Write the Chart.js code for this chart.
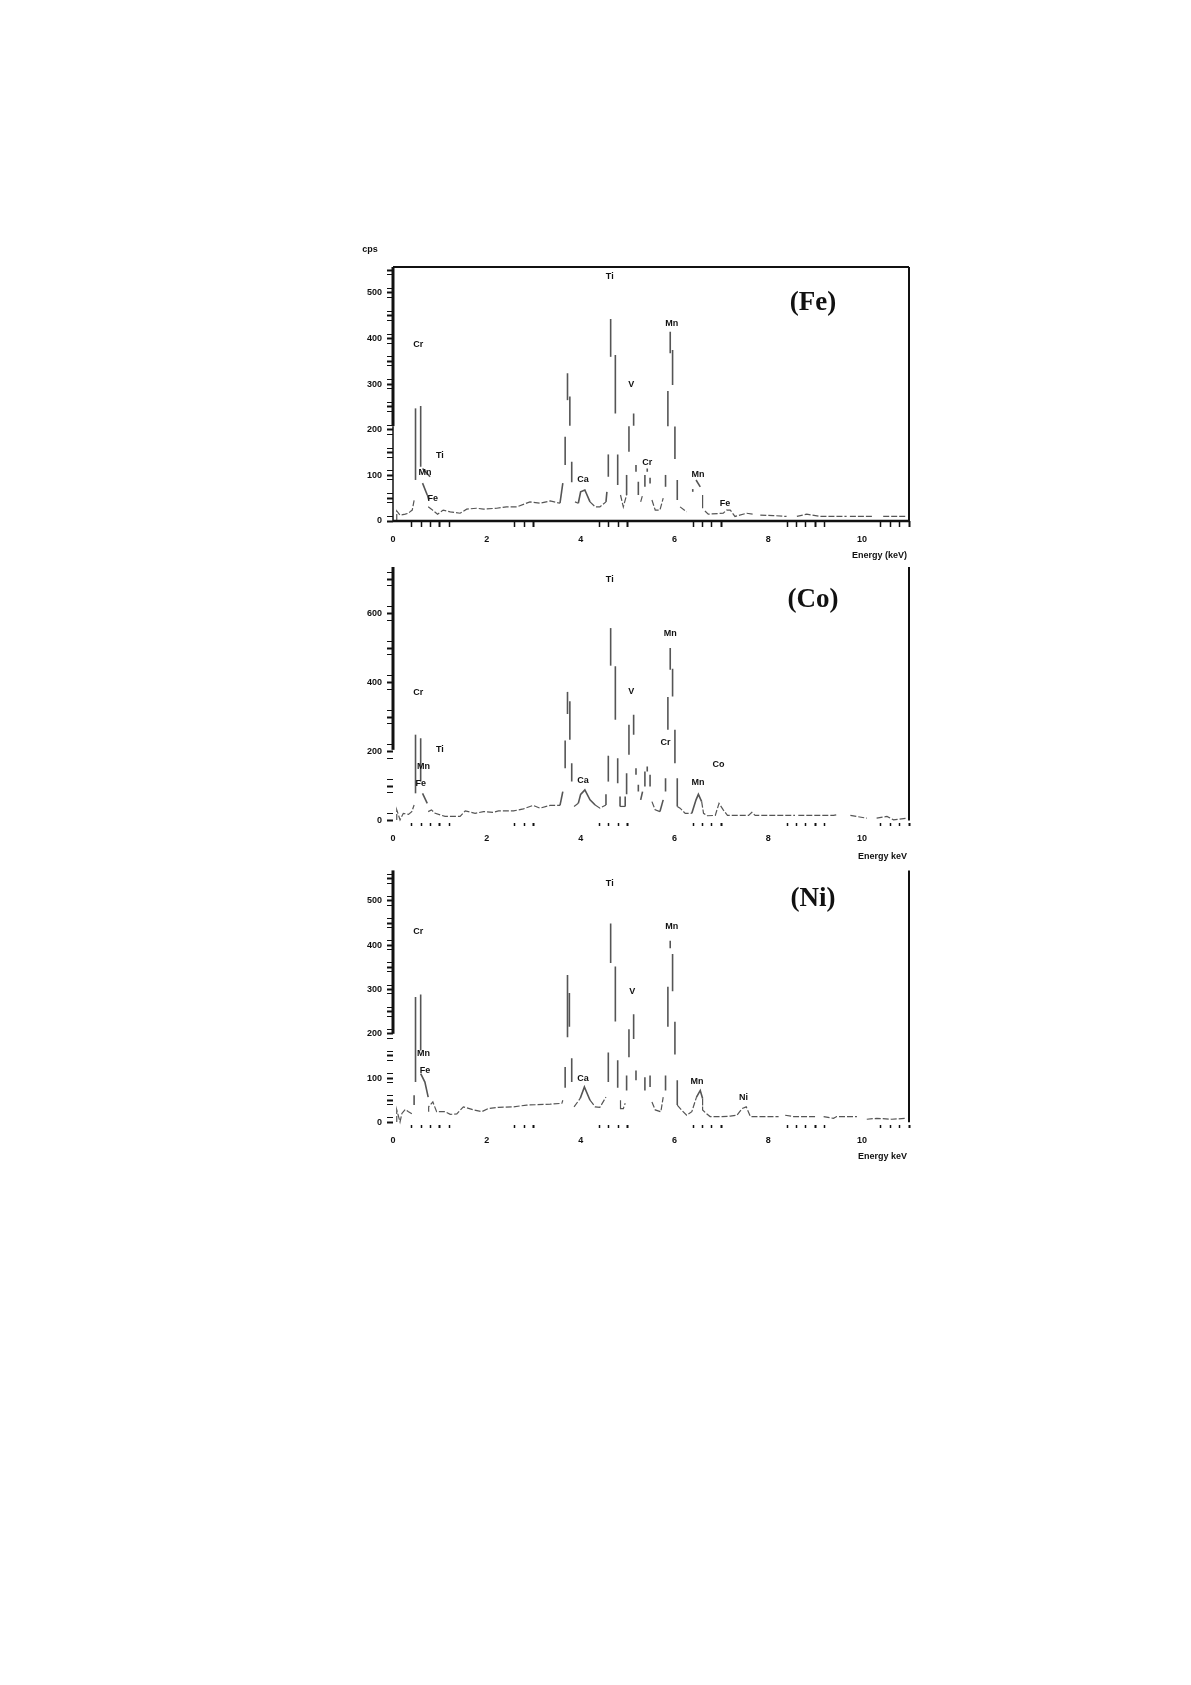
<!DOCTYPE html>
<html>
<head>
<meta charset="utf-8">
<title>EDS spectra</title>
<script src="https://cdn.jsdelivr.net/npm/chart.js@4/dist/chart.umd.js"></script>
<style>
    body { margin: 0; background: #fff; }
    #page { position: relative; width: 1191px; height: 1685px; overflow: hidden; }
    canvas { position: absolute; }
</style>
</head>
<body>
<div id="page">
    <canvas id="chart-fe"></canvas>
    <canvas id="chart-co"></canvas>
    <canvas id="chart-ni"></canvas>
</div>
<script>
// Spectrum data, null marks a break in the printed trace
const feEnergy = [.08,.08,.15,.26,.33,.36,.41,.45,.45, .48,.48,.48, .59,.59,.59, .63,.79,.79, .63,.73,.76,.76,
    .75,.82,.95,1.07,1.22,1.43,1.57,1.78,1.93,2.21,2.42,2.64,2.92,3.13,3.35,3.56,3.62,3.62,
    3.67,3.67,3.67, 3.72,3.72,3.72, 3.77,3.77,3.77, 3.81,3.81,3.81,
    3.88,3.95,4.00,4.09,4.20,4.31,4.41,4.54,4.56,4.56,
    4.59,4.59,4.59, 4.64,4.64,4.64, 4.74,4.74,4.74, 4.79,4.79,4.79, 4.85,4.91,4.98,4.98,4.98,
    5.03,5.03,5.03, 5.13,5.13,5.13, 5.18,5.18,5.18, 5.23,5.23,5.23, 5.28,5.32,5.32, 5.37,5.37,5.37,
    5.42,5.42,5.42, 5.48,5.48,5.48, 5.52,5.59,5.69,5.76,5.76, 5.81,5.81,5.81, 5.86,5.86,5.86,
    5.91,5.91,5.91, 5.96,5.96,5.96, 6.01,6.01,6.01, 6.06,6.06,6.06, 6.12,6.26,6.26, 6.39,6.39,6.39,
    6.46,6.55,6.55, 6.60,6.60,6.60, 6.65,6.72,7.04,7.11,7.19,7.29,7.54,7.68,7.68,
    7.83,8.11,8.39,8.39, 8.61,8.82,9.10,9.67,9.67, 9.74,10.24,10.24, 10.45,10.95];
const feCounts = [2,22,13,15,17,20,24,45,null, 90,247,null, 252,119,null, 115,97,null, 83,57,46,null,
    31,26,15,24,20,17,26,28,26,28,31,31,42,39,44,39,83,null,
    123,185,null, 265,324,null, 273,209,null, 130,85,null,
    42,39,64,68,42,31,31,42,64,null,
    97,146,null, 360,443,null, 364,236,null, 146,79,null, 57,31,57,101,null,
    152,208,null, 236,209,null, 123,108,null, 86,57,null, 42,57,null, 75,101,null,
    115,108,null, 95,82,null, 46,24,24,50,null, 75,101,null, 208,285,null,
    415,368,null, 375,298,null, 207,136,null, 90,46,null, 31,20,null, 64,70,null,
    90,75,null, 57,28,null, 22,15,17,24,24,10,17,15,null,
    13,12,10,null, 10,15,10,10,null, 10,10,null, 10,10];

const coEnergy = [.08,.08,.15,.22,.33,.40,.45,.45, .48,.48,.48, .59,.59,.59, .63,.73,.73,
    .75,.82,.90,1.04,1.11,1.43,1.54,1.75,1.93,2.14,2.25,2.57,2.78,2.99,3.13,3.35,3.56,3.62,3.62,
    3.67,3.67,3.67, 3.72,3.72,3.72, 3.77,3.77,3.77, 3.81,3.81,3.81,
    3.86,3.95,4.00,4.09,4.20,4.31,4.41,4.54,4.54,4.54,
    4.59,4.59,4.59, 4.64,4.64,4.64, 4.74,4.74,4.74, 4.79,4.79,4.79, 4.84,4.84,4.95,4.95,4.95,
    4.98,4.98,4.98, 5.03,5.03,5.03, 5.13,5.13,5.13, 5.18,5.18,5.18, 5.23,5.23,5.23, 5.28,5.32,5.32,
    5.37,5.37,5.37, 5.42,5.42,5.42, 5.48,5.48,5.48, 5.52,5.59,5.69,5.76,5.76, 5.81,5.81,5.81,
    5.86,5.86,5.86, 5.91,5.91,5.91, 5.96,5.96,5.96, 6.01,6.01,6.01, 6.06,6.06,
    6.12,6.23,6.37,6.46,6.51,6.58,6.62,6.70,6.87,6.95,7.04,7.13,7.58,7.65,7.72,8.57,8.57,
    8.64,9.39,9.46,9.46, 9.75,10.10,10.10, 10.31,10.53,10.67,10.95];
const coCounts = [2,31,2,21,18,26,45,null, 79,249,null, 239,113,null, 79,50,null,
    26,31,21,15,12,12,28,21,26,24,28,28,34,44,36,44,44,84,null,
    152,232,null, 309,373,null, 346,234,null, 166,113,null,
    41,50,76,89,60,45,36,45,76,null,
    113,188,null, 449,558,null, 447,292,null, 181,108,null, 70,41,41,70,null,
    137,76,null, 191,278,null, 307,249,null, 152,133,null, 104,84,null, 60,84,null,
    99,142,null, 157,142,null, 133,99,null, 55,31,26,60,null, 123,84,null,
    263,358,null, 500,437,null, 440,360,null, 263,166,null, 123,41,
    36,21,21,60,76,55,21,14,15,50,31,15,15,24,15,15,null,
    15,15,17,null, 15,7,null, 7,12,2,7];

const niEnergy = [.08,.08,.15,.19,.26,.33,.41,.41, .45,.45,.45, .48,.48,.48, .59,.59,.59, .59,.68,.75,.75,
    .76,.76,.85,.93,1.11,1.22,1.36,1.50,1.72,1.89,2.03,2.25,2.57,2.85,3.35,3.60,3.62,3.62,
    3.67,3.67,3.67, 3.72,3.72,3.72, 3.76,3.76,3.76, 3.81,3.81,3.81,
    3.86,3.99,4.08,4.20,4.31,4.41,4.54,4.54,
    4.59,4.59,4.59, 4.64,4.64,4.64, 4.74,4.74,4.74, 4.79,4.79,4.79, 4.85,4.85,4.91,4.95,4.95,
    4.98,4.98,4.98, 5.03,5.03,5.03, 5.13,5.13,5.13, 5.18,5.18,5.18, 5.37,5.37,5.37, 5.48,5.48,5.48,
    5.52,5.59,5.71,5.76,5.76, 5.81,5.81,5.81, 5.86,5.86,5.86, 5.91,5.91,5.91, 5.96,5.96,5.96,
    6.01,6.01,6.01, 6.06,6.06, 6.15,6.26,6.37,6.47,6.55,6.60,6.60, 6.68,6.76,7.01,7.19,7.33,7.44,7.53,7.62,8.22,8.22,
    8.36,8.54,9.00,9.00, 9.18,9.39,9.46,9.89,9.89, 10.10,10.31,10.63,10.95];
const niCounts = [1,28,1,20,29,24,19,null, 39,61,null, 91,283,null, 289,162,null, 110,91,57,null,
    24,35,46,24,24,18,19,35,28,24,31,34,35,39,41,43,50,null,
    78,125,null, 192,333,null, 292,216,null, 91,145,null,
    35,54,80,50,35,34,57,null,
    91,158,null, 360,449,null, 352,228,null, 140,78,null, 50,31,31,43,null,
    106,72,null, 147,210,null, 244,188,null, 117,95,null, 102,72,null, 106,80,null,
    46,28,24,57,null, 106,72,null, 216,306,null, 410,393,null, 380,296,null,
    227,153,null, 95,39, 28,16,24,57,72,54,28, 20,13,13,14,16,31,35,13,13,null,
    16,13,13,null, 13,9,13,13,null, 7,9,7,9];

// Peak annotations, one list per property
const fePeakNames = ['Cr', 'Ti', 'Mn', 'Fe', 'Ca', 'Ti', 'V', 'Cr', 'Mn', 'Mn', 'Fe'];
const fePeakEnergy = [.54, 1.0, .68, .85, 4.05, 4.62, 5.08, 5.42, 5.94, 6.5, 7.08];
const fePeakCounts = [386, 143, 107, 50, 91, 536, 300, 129, 433, 102, 39];

const coPeakNames = ['Cr', 'Ti', 'Mn', 'Fe', 'Ca', 'Ti', 'V', 'Cr', 'Mn', 'Mn', 'Co'];
const coPeakEnergy = [.54, 1.0, .65, .59, 4.05, 4.62, 5.08, 5.81, 5.91, 6.5, 6.94];
const coPeakCounts = [370, 205, 157, 108, 115, 700, 375, 226, 541, 111, 162];

const niPeakNames = ['Cr', 'Mn', 'Fe', 'Ca', 'Ti', 'V', 'Mn', 'Mn', 'Ni'];
const niPeakEnergy = [.54, .65, .68, 4.05, 4.62, 5.1, 5.94, 6.48, 7.47];
const niPeakCounts = [430, 156, 117, 98, 539, 295, 442, 93, 56];

// Axis tick labels
const energyTicks = [0, 2, 4, 6, 8, 10];
const feCountTicks = [0, 100, 200, 300, 400, 500];
const coCountTicks = [0, 200, 400, 600];
const niCountTicks = [0, 100, 200, 300, 400, 500];

const INK = '#111';
const TRACE = '#555';

// Draws the partial frame, peak names and panel title on top of the chart
const panelDecor = {
    id: 'panelDecor',
    afterDatasetsDraw(chart, args, opts) {
        const ctx = chart.ctx;
        const area = chart.chartArea;
        const y = chart.scales.y;
        const x = chart.scales.x;

        ctx.save();
        ctx.strokeStyle = INK;
        ctx.lineCap = 'butt';

        function rule(x0, y0, x1, y1, width) {
            ctx.lineWidth = width;
            ctx.beginPath();
            ctx.moveTo(x0, y0);
            ctx.lineTo(x1, y1);
            ctx.stroke();
        }

        rule(area.left, area.top, area.left, y.getPixelForValue(opts.spineEnd), 3);
        rule(area.right, area.top, area.right, y.getPixelForValue(0), 2);
        if (opts.closed) {
            rule(area.left, area.bottom, area.left, y.getPixelForValue(opts.spineEnd), 1.5);
            rule(area.left, area.top, area.right, area.top, 2);
            rule(area.left, area.bottom, area.right, area.bottom, 2.5);
        }

        ctx.fillStyle = INK;
        ctx.textAlign = 'center';
        ctx.textBaseline = 'middle';
        ctx.font = 'bold 9px "Liberation Sans"';
        opts.names.forEach(function(name, i) {
            ctx.fillText(name, x.getPixelForValue(opts.energy[i]), y.getPixelForValue(opts.counts[i]));
        });

        ctx.textAlign = 'right';
        ctx.fillText(opts.axisTitle, area.right - 2, area.bottom + opts.titleGap);
        if (opts.unit) {
            ctx.textAlign = 'center';
            ctx.fillText(opts.unit, area.left - 23, area.top - 17);
        }

        ctx.font = 'bold 27px "Liberation Serif"';
        ctx.textAlign = 'center';
        ctx.fillText(opts.title, area.right - 96, area.top + opts.titleTop);
        ctx.restore();
    }
};

function createPanel(config) {
    const canvas = document.getElementById(config.id);
    canvas.style.left = '320px';
    canvas.style.top = config.top + 'px';
    canvas.width = 610;
    canvas.height = config.height;

    const points = config.energy.map(function(e, i) {
        return { x: e, y: config.counts[i] };
    });

    new Chart(canvas.getContext('2d'), {
        type: 'line',
        data: {
            datasets: [{
                data: points,
                borderColor: TRACE,
                borderWidth: 1.6,
                pointRadius: 0,
                tension: 0,
                spanGaps: false,
                // the low background of the spectrum prints as a broken line
                segment: {
                    borderDash: function(c) {
                        return c.p0.parsed.y < 60 && c.p1.parsed.y < 60 ? [6, 2] : undefined;
                    },
                    borderWidth: function(c) {
                        return c.p0.parsed.y < 60 && c.p1.parsed.y < 60 ? 1.2 : undefined;
                    }
                }
            }]
        },
        options: {
            responsive: false,
            animation: false,
            layout: {
                autoPadding: false,
                padding: { left: 0, right: 21, top: config.padTop, bottom: 0 }
            },
            plugins: {
                legend: { display: false },
                tooltip: { enabled: false },
                panelDecor: config.decor
            },
            scales: {
                x: {
                    type: 'linear',
                    min: 0,
                    max: 11,
                    afterFit: function(scale) { scale.height = config.bottomSpace; },
                    border: { display: false },
                    grid: {
                        drawOnChartArea: false,
                        tickLength: config.tickLength,
                        tickWidth: function(c) {
                            return Math.abs(c.tick.value % 1) < 0.01 ? 2 : 1.5;
                        },
                        tickColor: function(c) {
                            const phase = Math.round(c.tick.value * 10) / 10 % 2;
                            return phase >= 0.4 && phase <= 1.2 ? INK : 'rgba(0,0,0,0)';
                        }
                    },
                    ticks: {
                        stepSize: 0.2,
                        autoSkip: false,
                        maxRotation: 0,
                        includeBounds: false,
                        padding: 7,
                        color: INK,
                        font: { family: 'Liberation Sans', size: 9, weight: 'bold' },
                        callback: function(value) {
                            const v = Math.round(value * 10) / 10;
                            return energyTicks.includes(v) ? String(v) : '';
                        }
                    }
                },
                y: {
                    min: config.min,
                    max: config.max,
                    afterFit: function(scale) { scale.width = 73; },
                    border: { display: false },
                    grid: {
                        drawOnChartArea: false,
                        tickLength: 6,
                        tickWidth: function(c) {
                            return c.tick.value % config.longStep === 0 ? 2 : 1;
                        },
                        tickColor: function(c) {
                            const offset = c.tick.value % config.longStep;
                            const nearLong = offset <= config.step || offset >= config.longStep - config.step;
                            return nearLong && c.tick.value >= 0 ? INK : 'rgba(0,0,0,0)';
                        }
                    },
                    ticks: {
                        stepSize: config.step,
                        autoSkip: false,
                        includeBounds: false,
                        padding: 5,
                        color: INK,
                        font: { family: 'Liberation Sans', size: 9, weight: 'bold' },
                        callback: function(value) {
                            return config.countTicks.includes(value) ? String(value) : '';
                        }
                    }
                }
            }
        },
        plugins: [panelDecor]
    });
}

document.addEventListener('DOMContentLoaded', function() {
    createPanel({
        id: 'chart-fe', top: 235, height: 330, padTop: 32, bottomSpace: 44, tickLength: 6,
        energy: feEnergy, counts: feCounts, countTicks: feCountTicks,
        min: 0, max: 557, step: 10, longStep: 50,
        decor: {
            names: fePeakNames, energy: fePeakEnergy, counts: fePeakCounts,
            spineEnd: 208, closed: true, axisTitle: 'Energy (keV)', titleGap: 35,
            unit: 'cps', title: '(Fe)', titleTop: 36
        }
    });
    createPanel({
        id: 'chart-co', top: 555, height: 310, padTop: 12, bottomSpace: 42, tickLength: 3,
        energy: coEnergy, counts: coCounts, countTicks: coCountTicks,
        min: -7, max: 735, step: 20, longStep: 100,
        decor: {
            names: coPeakNames, energy: coPeakEnergy, counts: coPeakCounts,
            spineEnd: 205, closed: false, axisTitle: 'Energy keV', titleGap: 34,
            title: '(Co)', titleTop: 33
        }
    });
    createPanel({
        id: 'chart-ni', top: 860, height: 307, padTop: 8, bottomSpace: 42, tickLength: 3,
        energy: niEnergy, counts: niCounts, countTicks: niCountTicks,
        min: -6, max: 569, step: 10, longStep: 50,
        decor: {
            names: niPeakNames, energy: niPeakEnergy, counts: niPeakCounts,
            spineEnd: 200, closed: false, axisTitle: 'Energy keV', titleGap: 32,
            title: '(Ni)', titleTop: 29
        }
    });
});
</script>
</body>
</html>
